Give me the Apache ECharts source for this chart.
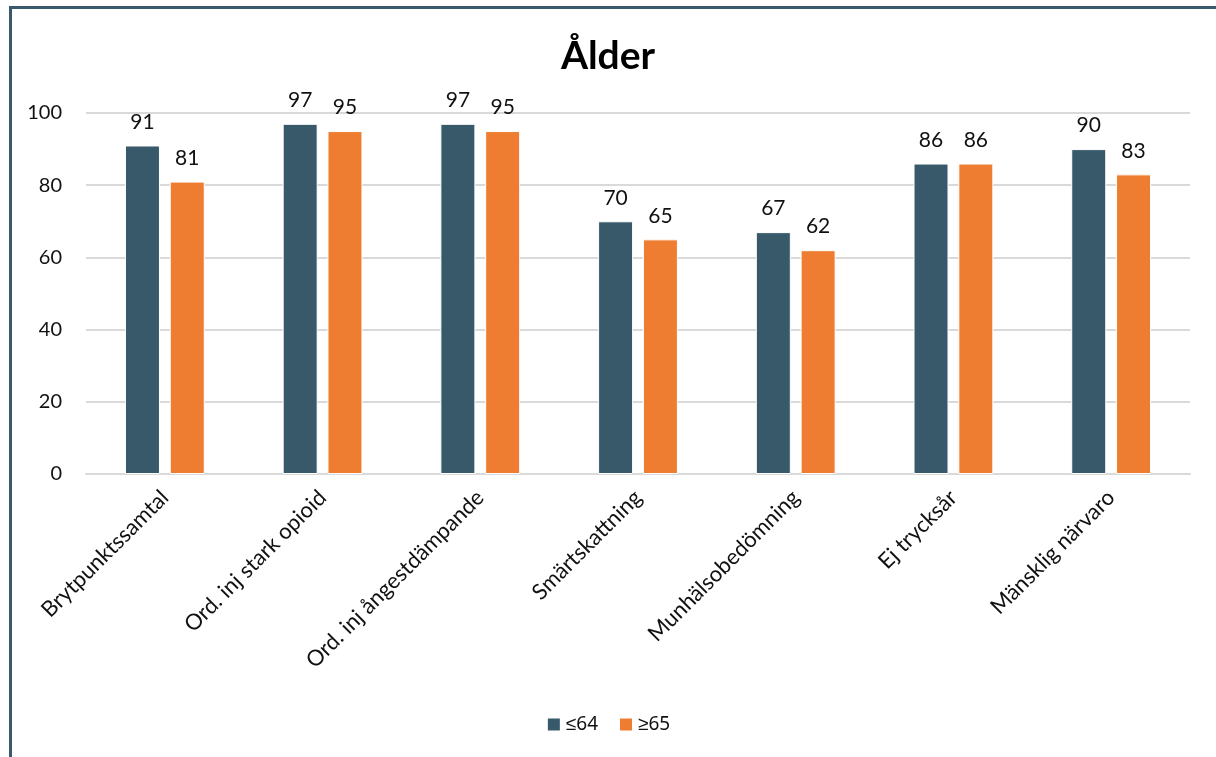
<!DOCTYPE html>
<html>
<head>
<meta charset="utf-8">
<style>
  html, body { margin: 0; padding: 0; background: #fff; }
  #wrap { position: relative; width: 1216px; height: 757px; overflow: hidden; }
  #frame { position: absolute; left: 9px; top: 6px; width: 1220px; height: 770px;
           border-top: 3px solid #3a5a6b; border-left: 3px solid #3a5a6b; box-sizing: border-box; }
  #chart { position: absolute; left: 0; top: 0; width: 1216px; height: 757px; }
</style>
<script src="https://cdn.jsdelivr.net/npm/echarts@6/dist/echarts.min.js"></script>
</head>
<body>
<div id="wrap">
  <div id="frame"></div>
  <div id="chart"></div>
</div>
<script>
// Kategorier och andelar (%) per åldersgrupp
const categories = [
  'Brytpunktssamtal',
  'Ord. inj stark opioid',
  'Ord. inj ångestdämpande',
  'Smärtskattning',
  'Munhälsobedömning',
  'Ej trycksår',
  'Mänsklig närvaro'
];
const seriesNames = ['≤64', '≥65'];
const under65 = [91, 97, 97, 70, 67, 86, 90];
const over65 = [81, 95, 95, 65, 62, 86, 83];
const yTicks = { min: 0, max: 100, interval: 20 };

const FONT = 'Lato, "Open Sans", sans-serif';
const chart = echarts.init(document.getElementById('chart'), null, { renderer: 'canvas' });

const labelStyle = {
  show: true,
  position: 'top',
  distance: 13,
  color: '#111',
  fontSize: 21,
  fontFamily: FONT
};

chart.setOption({
  animation: false,
  title: {
    text: 'Ålder',
    left: 'center',
    top: 32,
    textStyle: { fontSize: 39, fontWeight: 'bold', color: '#000', fontFamily: FONT }
  },
  legend: {
    data: seriesNames,
    bottom: 18,
    left: 'center',
    itemWidth: 14,
    itemHeight: 14,
    itemGap: 20,
    icon: 'rect',
    textStyle: { fontSize: 19, color: '#111', fontFamily: '"Noto Sans", sans-serif' }
  },
  grid: { left: 86, right: 26, top: 113, bottom: 283, containLabel: false },
  xAxis: {
    type: 'category',
    data: categories,
    axisLine: { show: true, lineStyle: { color: '#d9d9d9', width: 2 } },
    axisTick: { show: false },
    axisLabel: {
      rotate: 45,
      interval: 0,
      margin: 20,
      fontSize: 22,
      color: '#111',
      fontFamily: FONT
    }
  },
  yAxis: {
    type: 'value',
    min: yTicks.min,
    max: yTicks.max,
    interval: yTicks.interval,
    axisLine: { show: false },
    axisTick: { show: false },
    splitLine: { lineStyle: { color: '#d9d9d9', width: 2 } },
    axisLabel: { fontSize: 20, color: '#111', margin: 24, fontFamily: FONT }
  },
  series: [
    {
      name: seriesNames[0],
      type: 'bar',
      data: under65,
      barWidth: 35,
      barGap: '28%',
      itemStyle: { color: '#37596a', borderColor: '#ffffff', borderWidth: 1 },
      label: labelStyle
    },
    {
      name: seriesNames[1],
      type: 'bar',
      data: over65,
      barWidth: 35,
      itemStyle: { color: '#ee7d31', borderColor: '#ffffff', borderWidth: 1 },
      label: labelStyle
    }
  ]
});
</script>
</body>
</html>
